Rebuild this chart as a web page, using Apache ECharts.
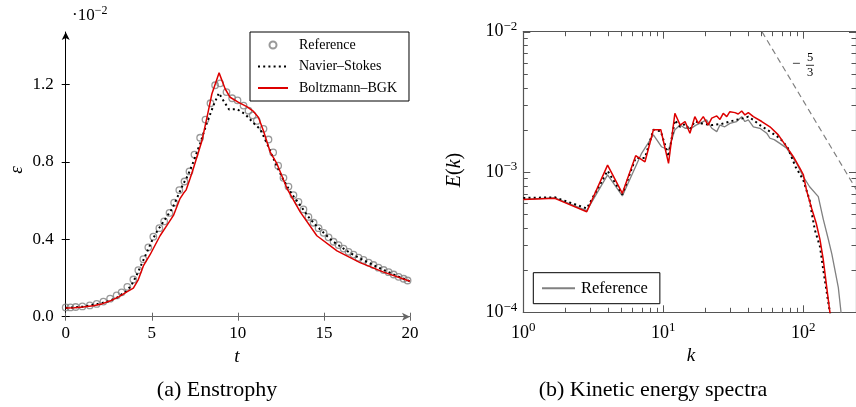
<!DOCTYPE html>
<html><head><meta charset="utf-8">
<script src="https://cdn.jsdelivr.net/npm/echarts@6.0.0/dist/echarts.min.js"></script>
<style>html,body{margin:0;padding:0;background:#fff}#c{width:856px;height:407px}</style>
</head><body><div id="c"></div>
<script>
// ---------- (a) Enstrophy (values in units of 1e-2) ----------
const entRefT = [0, 0.27, 0.58, 0.97, 1.4, 1.8, 2.19, 2.58, 2.96, 3.25, 3.58, 3.93, 4.22, 4.51, 4.8, 5.09, 5.44, 5.72, 6.03, 6.3, 6.6, 6.9, 7.19, 7.48, 7.81, 8.12, 8.41, 8.68, 8.97, 9.34, 9.67, 9.98, 10.33, 10.62, 10.86, 11.1, 11.49, 11.78, 12.05, 12.34, 12.65, 12.94, 13.23, 13.52, 13.81, 14.1, 14.4, 14.69, 14.98, 15.27, 15.56, 15.85, 16.14, 16.43, 16.72, 17.01, 17.3, 17.6, 17.88, 18.17, 18.47, 18.76, 19.05, 19.34, 19.63, 19.86];
const entRefV = [0.048, 0.048, 0.05, 0.053, 0.058, 0.066, 0.078, 0.093, 0.11, 0.126, 0.154, 0.192, 0.24, 0.297, 0.358, 0.413, 0.457, 0.492, 0.536, 0.589, 0.654, 0.698, 0.75, 0.837, 0.924, 1.018, 1.102, 1.195, 1.205, 1.16, 1.128, 1.117, 1.09, 1.064, 1.04, 1.011, 0.97, 0.915, 0.848, 0.78, 0.717, 0.672, 0.628, 0.593, 0.554, 0.515, 0.485, 0.457, 0.433, 0.41, 0.387, 0.37, 0.352, 0.335, 0.321, 0.305, 0.293, 0.279, 0.267, 0.253, 0.241, 0.23, 0.218, 0.206, 0.196, 0.187];

const entNsT = [0, 1, 2, 2.5, 3, 3.5, 3.8, 4.1, 4.4, 4.7, 5, 5.3, 5.6, 5.9, 6.2, 6.5, 6.8, 7.1, 7.42, 7.81, 8.2, 8.58, 8.9, 9.2, 9.49, 9.94, 10.42, 10.91, 11.3, 11.69, 12.0, 12.3, 12.6, 12.9, 13.2, 13.5, 13.8, 14.1, 14.5, 15, 15.5, 16, 16.5, 17, 17.5, 18, 18.5, 19, 19.5, 20];
const entNsV = [0.045, 0.052, 0.068, 0.08, 0.1, 0.13, 0.16, 0.21, 0.27, 0.33, 0.39, 0.44, 0.48, 0.52, 0.56, 0.62, 0.68, 0.73, 0.8, 0.895, 1.0, 1.09, 1.155, 1.11, 1.07, 1.072, 1.046, 1.0, 0.968, 0.895, 0.83, 0.77, 0.715, 0.668, 0.625, 0.59, 0.553, 0.515, 0.475, 0.432, 0.39, 0.36, 0.33, 0.305, 0.283, 0.261, 0.24, 0.22, 0.2, 0.183];

const entBgkT = [0, 0.5, 1.0, 1.6, 2.1, 2.6, 3.1, 3.55, 3.93, 4.22, 4.51, 4.9, 5.48, 5.87, 6.26, 6.64, 6.84, 7.0, 7.23, 7.42, 7.91, 8.29, 8.49, 8.91, 9.26, 9.55, 10.04, 10.52, 10.91, 11.2, 11.49, 11.88, 12.27, 12.85, 13.62, 14.59, 15.76, 17.1, 18.47, 20];
const entBgkV = [0.045, 0.046, 0.05, 0.056, 0.066, 0.082, 0.104, 0.128, 0.148, 0.192, 0.262, 0.32, 0.418, 0.47, 0.523, 0.61, 0.637, 0.655, 0.715, 0.767, 0.907, 1.064, 1.15, 1.259, 1.177, 1.133, 1.107, 1.085, 1.06, 1.029, 0.959, 0.85, 0.79, 0.663, 0.541, 0.418, 0.34, 0.279, 0.23, 0.183];

const entXTicks = [0, 5, 10, 15, 20];
const entYTicks = [0, 0.4, 0.8, 1.2];

// ---------- (b) Kinetic energy spectra ----------
const specRefK = [1, 1.68, 2.84, 4.0, 5.1, 7.0, 8.5, 9.7, 10.9, 12.1, 13.2, 14.3, 15.9, 17, 18.2, 20.4, 22.2, 24.1, 25.4, 27.5, 29.9, 33.4, 36.3, 38.3, 40.5, 44, 49, 54.8, 57.8, 62, 68, 76, 89.7, 100, 111, 128, 139, 150, 160, 170, 178, 186, 192];
const specRefE = [6.38e-4, 6.53e-4, 5.31e-4, 9.53e-4, 6.75e-4, 1.358e-3, 1.837e-3, 1.514e-3, 1.435e-3, 2.0e-3, 2.16e-3, 2.05e-3, 2.05e-3, 2.15e-3, 2.22e-3, 2.35e-3, 2.05e-3, 1.94e-3, 2.16e-3, 2.10e-3, 2.22e-3, 2.29e-3, 2.48e-3, 2.29e-3, 2.35e-3, 2.10e-3, 2.05e-3, 1.89e-3, 1.74e-3, 1.7e-3, 1.6e-3, 1.48e-3, 1.15e-3, 9.27e-4, 7.85e-4, 6.67e-4, 4.6e-4, 3.4e-4, 2.6e-4, 1.9e-4, 1.5e-4, 1.0e-4, 6e-5];

const specNsK = [1, 1.68, 2.84, 4.0, 5.1, 6.35, 7.4, 8.5, 9.6, 10.9, 12.1, 13.2, 14.3, 15.5, 16.8, 19.3, 22.2, 26, 29.9, 33, 36.3, 40.5, 44, 49, 57.8, 68, 77, 88, 100, 111, 115, 121, 131.6, 139, 150, 155, 160];
const specNsE = [6.53e-4, 6.6e-4, 5.5e-4, 1.02e-3, 6.92e-4, 1.26e-3, 1.26e-3, 2.0e-3, 1.95e-3, 1.29e-3, 2.34e-3, 2.1e-3, 2.2e-3, 2.0e-3, 2.3e-3, 2.2e-3, 2.16e-3, 2.2e-3, 2.29e-3, 2.35e-3, 2.4e-3, 2.48e-3, 2.35e-3, 2.16e-3, 1.94e-3, 1.74e-3, 1.51e-3, 1.09e-3, 8.77e-4, 6.3e-4, 5.08e-4, 3.86e-4, 2.94e-4, 2.0e-4, 1.22e-4, 1.0e-4, 8e-5];

const specBgkK = [1, 1.68, 2.84, 4.0, 5.1, 6.35, 7.4, 8.5, 9.6, 10.9, 12.1, 13.2, 14.3, 15.5, 16.8, 17.8, 19.3, 20.9, 22.2, 24.1, 25.4, 26.8, 28.4, 29.9, 32.5, 34.3, 36.3, 38.3, 40.5, 44, 50.5, 57.8, 66.3, 76, 84.9, 94.7, 100, 105.5, 114.8, 123.7, 131.6, 139, 150, 155, 160];
const specBgkE = [6.38e-4, 6.49e-4, 5.21e-4, 1.12e-3, 7.05e-4, 1.306e-3, 1.183e-3, 2.0e-3, 2.0e-3, 1.153e-3, 2.62e-3, 2.16e-3, 2.29e-3, 1.89e-3, 2.48e-3, 2.22e-3, 2.48e-3, 2.16e-3, 2.42e-3, 2.51e-3, 2.37e-3, 2.62e-3, 2.48e-3, 2.69e-3, 2.65e-3, 2.59e-3, 2.72e-3, 2.55e-3, 2.65e-3, 2.48e-3, 2.29e-3, 2.10e-3, 1.84e-3, 1.51e-3, 1.285e-3, 1.06e-3, 9.6e-4, 7.4e-4, 5.5e-4, 4.31e-4, 3.3e-4, 2.36e-4, 1.29e-4, 1.0e-4, 8e-5];

const slopeK = [50.7, 256];
const slopeE = [1.0e-2, 6.7e-4];

const specXTicks = [1, 10, 100];
const specXMinor = [2, 3, 4, 5, 6, 7, 8, 9, 20, 30, 40, 50, 60, 70, 80, 90];
const specYTicks = [1e-4, 1e-3, 1e-2];
const specYMinor = [2e-4, 3e-4, 4e-4, 5e-4, 6e-4, 7e-4, 8e-4, 9e-4, 2e-3, 3e-3, 4e-3, 5e-3, 6e-3, 7e-3, 8e-3, 9e-3];

// ---------- chart ----------
const zip = (a, b) => a.map((v, i) => [v, b[i]]);
const SERIF = '"Liberation Serif","DejaVu Serif",serif';
const AX = '#555';
const MAJ = 7, MIN = 4.5;
function powLabel(v) {
  const e = Math.round(Math.log10(v));
  return '{b|10}{s|' + (e < 0 ? '\u2212' + (-e) : e) + '}';
}
function powRich() {
  return {
    b: { fontSize: 18, fontFamily: SERIF, color: '#000' },
    s: { fontSize: 13, fontFamily: SERIF, color: '#000', padding: [0, 0, 10, 0] }
  };
}
function logAxis(dim, pos, label) {
  return {
    gridIndex: 1, type: 'log', logBase: 10, position: pos,
    min: dim === 'x' ? 1 : 1e-4, max: dim === 'x' ? 238 : 1e-2,
    axisLine: { show: true, lineStyle: { color: AX, width: 1.2 } },
    axisTick: { show: false },
    axisLabel: label ? { formatter: powLabel, rich: powRich(), customValues: dim === 'x' ? specXTicks : specYTicks, margin: label.margin } : { show: false },
    splitLine: { show: false }, minorTick: { show: false }
  };
}
function entAxisX(inside) {
  return { gridIndex: 0, type: 'value', min: 0, max: 20, interval: 5, position: 'bottom',
    axisLine: inside ? { show: false } : { show: true, lineStyle: { color: '#666', width: 1.2 }, symbol: ['none', 'arrow'], symbolSize: [6, 8] },
    axisTick: { show: true, inside: inside, length: 4, lineStyle: { color: '#666' }, customValues: entXTicks },
    axisLabel: inside ? { show: false } : { margin: 8, fontSize: 17, fontFamily: SERIF, color: '#000', customValues: entXTicks },
    splitLine: { show: false } };
}
function entAxisY(inside) {
  return { gridIndex: 0, type: 'value', min: 0, max: 1.47, position: 'left',
    axisLine: inside ? { show: false } : { show: true, lineStyle: { color: '#000', width: 1 }, symbol: ['none', 'arrow'], symbolSize: [6, 8] },
    axisTick: { show: true, inside: inside, length: 4, lineStyle: { color: '#000' }, customValues: entYTicks },
    axisLabel: inside ? { show: false } : { margin: 12, fontSize: 17, fontFamily: SERIF, color: '#000', customValues: entYTicks, formatter: v => v.toFixed(1) },
    splitLine: { show: false } };
}
const noSym = () => ({ color: 'rgba(0,0,0,0)', borderColor: 'rgba(0,0,0,0)', borderWidth: 0 });

// tick marks of the log-log frame, placed through the axes' own scales
const xTickData = specXTicks.map(v => [v, 1e-3, MAJ]).concat(specXMinor.map(v => [v, 1e-3, MIN]));
const yTickData = specYTicks.map(v => [10, v, MAJ]).concat(specYMinor.map(v => [10, v, MIN]));
function tickRender(isX, src) {
  return function (params, api) {
    const cs = params.coordSys;
    const item = src[params.dataIndex];
    const p = api.coord([item[0], item[1]]);
    const len = item[2];
    const st = { stroke: AX, lineWidth: 1 };
    if (isX) {
      const x = Math.round(p[0]) + 0.5;
      return { type: 'group', children: [
        { type: 'line', shape: { x1: x, y1: cs.y + cs.height, x2: x, y2: cs.y + cs.height - len }, style: st },
        { type: 'line', shape: { x1: x, y1: cs.y, x2: x, y2: cs.y + len }, style: st } ] };
    }
    const y = Math.round(p[1]) + 0.5;
    return { type: 'group', children: [
      { type: 'line', shape: { x1: cs.x, y1: y, x2: cs.x + len, y2: y }, style: st },
      { type: 'line', shape: { x1: cs.x + cs.width, y1: y, x2: cs.x + cs.width - len, y2: y }, style: st } ] };
  };
}

const chart = echarts.init(document.getElementById('c'), null, { renderer: 'canvas' });
chart.setOption({
  animation: false,
  grid: [
    { left: 65.7, top: 32, width: 344.3, height: 284.7 },
    { left: 523.3, top: 31.7, width: 332.7, height: 280.6 }
  ],
  xAxis: [
    entAxisX(false), entAxisX(true),
    logAxis('x', 'bottom', { margin: 9 }),
    logAxis('x', 'top', null)
  ],
  yAxis: [
    entAxisY(false), entAxisY(true),
    logAxis('y', 'left', { margin: 6 }),
    logAxis('y', 'right', null)
  ],
  legend: [
    { data: [
        { name: 'Reference' },
        { name: 'Navier\u2013Stokes', itemStyle: noSym() },
        { name: 'Boltzmann\u2013BGK', itemStyle: noSym() }
      ], orient: 'vertical', left: 250, top: 32,
      padding: [6, 12, 6, 7], itemGap: 7.5, itemWidth: 30, itemHeight: 7, selectedMode: false,
      borderColor: '#000', borderWidth: 1, backgroundColor: '#fff',
      textStyle: { fontFamily: SERIF, fontSize: 14, color: '#000', padding: [0, 0, 0, 6] } },
    { data: [{ name: 'Reference ', itemStyle: noSym() }], left: 533.3, top: 272.7, padding: [7, 12, 7, 7.7], itemWidth: 33, itemHeight: 7,
      selectedMode: false, borderColor: '#000', borderWidth: 1, backgroundColor: '#fff',
      formatter: n => n.trim(),
      textStyle: { fontFamily: SERIF, fontSize: 16.5, color: '#000', padding: [0, 0, 0, 1] } }
  ],
  series: [
    { type: 'scatter', name: 'Reference', xAxisIndex: 0, yAxisIndex: 0, data: zip(entRefT, entRefV),
      symbol: 'circle', symbolSize: 6.5, z: 2,
      itemStyle: { color: 'rgba(255,255,255,0)', borderColor: '#808080', borderWidth: 1.3 } },
    { type: 'line', name: 'Navier\u2013Stokes', xAxisIndex: 0, yAxisIndex: 0, data: zip(entNsT, entNsV),
      symbol: 'none', z: 3, itemStyle: { color: '#000' },
      lineStyle: { color: '#000', width: 2, type: [2, 3.2] } },
    { type: 'line', name: 'Boltzmann\u2013BGK', xAxisIndex: 0, yAxisIndex: 0, data: zip(entBgkT, entBgkV),
      symbol: 'none', z: 4, itemStyle: { color: '#dd0000' },
      lineStyle: { color: '#dd0000', width: 1.5 } },

    { type: 'custom', name: 'xticks', xAxisIndex: 2, yAxisIndex: 2, data: xTickData, renderItem: tickRender(true, xTickData), clip: false, z: 6, silent: true },
    { type: 'custom', name: 'yticks', xAxisIndex: 2, yAxisIndex: 2, data: yTickData, renderItem: tickRender(false, yTickData), clip: false, z: 6, silent: true },

    { type: 'line', name: 'Reference ', xAxisIndex: 2, yAxisIndex: 2, data: zip(specRefK, specRefE),
      symbol: 'none', z: 2, itemStyle: { color: '#808080' }, lineStyle: { color: '#808080', width: 1.3 } },
    { type: 'line', name: 'Navier\u2013Stokes ', xAxisIndex: 2, yAxisIndex: 2, data: zip(specNsK, specNsE),
      symbol: 'none', z: 3, lineStyle: { color: '#000', width: 2, type: [2, 3.2] } },
    { type: 'line', name: 'Boltzmann\u2013BGK ', xAxisIndex: 2, yAxisIndex: 2, data: zip(specBgkK, specBgkE),
      symbol: 'none', z: 4, lineStyle: { color: '#dd0000', width: 1.5 } },
    { type: 'line', name: 'slope', xAxisIndex: 2, yAxisIndex: 2, data: zip(slopeK, slopeE),
      symbol: 'none', z: 1, lineStyle: { color: '#808080', width: 1.2, type: [6, 4] } }
  ],
  graphic: [
    { type: 'text', x: 72, y: 5, style: { text: '{a|\u00b710}{b|\u22122}', rich: {
        a: { fontSize: 17, fontFamily: SERIF, fill: '#000' },
        b: { fontSize: 12, fontFamily: SERIF, fill: '#000', padding: [0, 0, 10, 0] } } } },
    { type: 'text', x: 17, y: 170, rotation: Math.PI / 2, style: { text: '\u03b5', font: 'italic 19px ' + SERIF, fill: '#000', align: 'center', verticalAlign: 'middle' } },
    { type: 'text', x: 237, y: 357, style: { text: 't', font: 'italic 19px ' + SERIF, fill: '#000', align: 'center', verticalAlign: 'middle' } },
    { type: 'text', x: 217, y: 390, style: { text: '(a) Enstrophy', font: '22px ' + SERIF, fill: '#000', align: 'center', verticalAlign: 'middle' } },
    { type: 'text', x: 455, y: 170, rotation: Math.PI / 2, style: { text: '{i|E}{n|(}{i|k}{n|)}', align: 'center', verticalAlign: 'middle',
        rich: { i: { font: 'italic 20px ' + SERIF, fill: '#000' }, n: { font: '20px ' + SERIF, fill: '#000' } } } },
    { type: 'text', x: 691, y: 356, style: { text: 'k', font: 'italic 19px ' + SERIF, fill: '#000', align: 'center', verticalAlign: 'middle' } },
    { type: 'text', x: 653, y: 390, style: { text: '(b) Kinetic energy spectra', font: '22px ' + SERIF, fill: '#000', align: 'center', verticalAlign: 'middle' } },
    { type: 'text', x: 796.3, y: 64.3, style: { text: '\u2212', font: '15px ' + SERIF, fill: '#000', align: 'center', verticalAlign: 'middle' } },
    { type: 'text', x: 810, y: 58, style: { text: '5', font: '12.5px ' + SERIF, fill: '#000', align: 'center', verticalAlign: 'middle' } },
    { type: 'text', x: 810, y: 72.5, style: { text: '3', font: '12.5px ' + SERIF, fill: '#000', align: 'center', verticalAlign: 'middle' } },
    { type: 'line', shape: { x1: 806, y1: 65.3, x2: 814, y2: 65.3 }, style: { stroke: '#000', lineWidth: 0.8 } }
  ]
});
</script></body></html>
